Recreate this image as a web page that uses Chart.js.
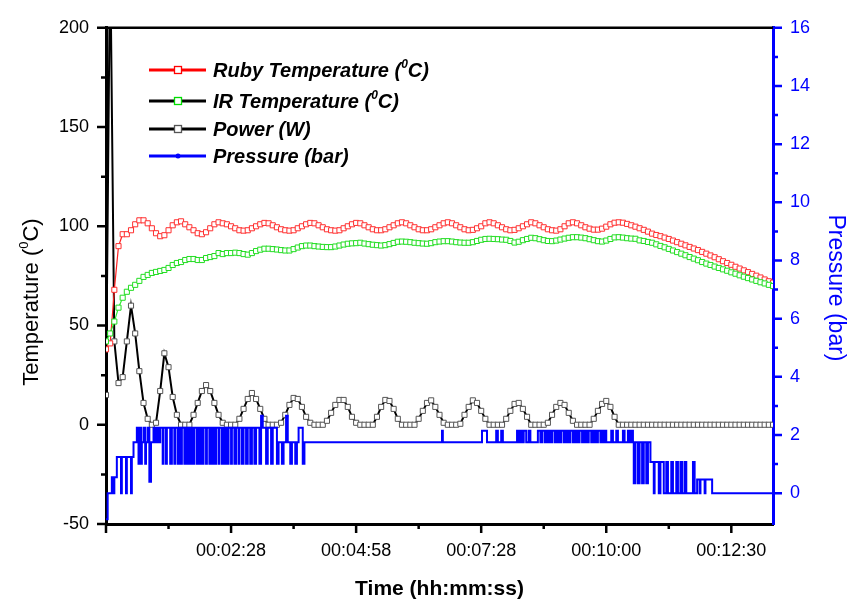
<!DOCTYPE html>
<html lang="en">
<head>
<meta charset="UTF-8">
<title>Ruby / IR temperature, power and pressure</title>
<script src="https://cdn.jsdelivr.net/npm/chart.js"></script>
<style>
  body { margin: 0; background: #fff; }
  #chart { display: block; }
</style>
</head>
<body>
<canvas id="chart" width="850" height="602"></canvas>
<script>
const sampleStep = 5;

// temperature in degC, one value per sample, 0 .. 800 s
const rubyTemp = [
  38, 41, 68, 90, 96, 96, 98, 101, 103, 103,
  101.5, 99, 96.5, 95, 95.5, 98, 100.5, 102, 102.5, 101,
  99.5, 98, 96.5, 96, 97, 99, 101, 102, 101.5, 101,
  100, 99, 98, 97.8, 98, 99, 100, 101, 101.7, 101.5,
  100.5, 99.5, 98.5, 98, 97.8, 98, 99, 100, 101, 101.7,
  101.5, 100.5, 99.5, 98.5, 98, 97.8, 98, 99, 100, 101,
  101.7, 101.5, 100.5, 99.5, 98.5, 98, 98, 98.5, 99.5, 100.5,
  101.5, 102, 101.5, 100.5, 99.5, 98.5, 98, 98, 98.5, 99.5,
  100.5, 101.5, 102, 101.5, 100.5, 99.5, 98.5, 98, 98.2, 99,
  100, 101.5, 102, 101.5, 100.5, 99.5, 98.5, 98, 98.2, 99,
  100, 101, 102, 101.5, 100.5, 99.5, 98.5, 98, 97.8, 98.5,
  100, 101.5, 102, 101.5, 100.5, 99.5, 98.8, 98.3, 98.3, 98.8,
  99.8, 101, 101.8, 102, 101.8, 101.2, 100.5, 99.8, 99, 98.2,
  97.3, 96.3, 95.6, 95, 94.3, 93.6, 92.8, 92, 91.2, 90.4,
  89.6, 88.8, 88, 87.1, 86.2, 85.3, 84.4, 83.4, 82.4, 81.5,
  80.6, 79.6, 78.7, 77.8, 76.9, 76, 75.1, 74.2, 73.2, 72.3,
  71.6
];

const irTemp = [
  42, 46, 52, 59, 64, 67, 69, 70.5, 72.5, 74.5,
  75.5, 76.5, 77, 77.5, 78, 79, 80.5, 81.5, 82, 83,
  83.5, 83.5, 83, 83, 84, 84.5, 85, 86.5, 86, 86.5,
  86.5, 86.7, 86.5, 86, 85.7, 86.5, 87.5, 88.2, 88.7, 88.7,
  88.5, 88.3, 88, 87.8, 87.8, 88.5, 89.3, 90, 90.3, 90.3,
  90, 89.8, 89.6, 89.5, 89.5, 89.8, 90.3, 90.8, 91.2, 91.4,
  91.5, 91.7, 91.3, 91, 90.7, 90.5, 90.3, 90.5, 91, 91.6,
  92.2, 92.3, 92.2, 92, 91.7, 91.5, 91.3, 91.2, 91.5, 92,
  92.3, 92.5, 92.5, 92.3, 92, 91.8, 91.7, 91.7, 92, 92.6,
  93.2, 93.6, 93.7, 93.6, 93.5, 93.3, 93.2, 92.6, 91.8, 92.2,
  93, 93.6, 94.2, 94, 93.5, 93, 92.6, 92.5, 92.8, 93.3,
  93.8, 94.2, 94.5, 94.5, 94.3, 94, 93.5, 93, 92.5, 92.3,
  92.8, 93.6, 94.4, 94.5, 94.3, 94, 93.8, 93.7, 92.9, 92.6,
  92.1, 91.7, 90.9, 90.1, 89.4, 88.6, 87.8, 87, 86.2, 85.4,
  84.5, 83.7, 82.9, 82, 81.2, 80.5, 79.7, 79, 78.3, 77.6,
  76.8, 76.1, 75.3, 74.6, 73.9, 73.2, 72.5, 71.8, 71.2, 70.5,
  69.9
];

// heater power in W, same samples (second one runs off the top)
const power = [
  15, 240, 42, 21, 24, 42, 60, 46, 27, 11,
  3, 0, 1, 17, 36, 29, 14, 5, 0, 0,
  0, 5, 11, 17, 20, 17, 11, 5, 1, 0,
  0, 0, 3, 8, 13, 16, 13, 8, 3, 0,
  0, 0, 1, 5, 10, 13.5, 13, 9, 4, 1,
  0, 0, 0, 2, 6, 10, 12.5, 12.5, 9, 4,
  1, 0, 0, 0, 0, 4, 9, 12.5, 12, 8,
  3, 0, 0, 0, 0, 3, 7, 11, 12.3, 9,
  5, 1, 0, 0, 0, 0.5, 5, 9, 12.3, 11,
  7, 3, 0, 0, 0, 0, 3, 7, 10.5, 11,
  8, 4, 0, 0, 0, 0, 1, 5, 9, 11,
  10, 6, 2, 0, 0, 0, 0, 3, 7, 10.5,
  12, 9, 4, 0, 0, 0, 0, 0, 0, 0,
  0, 0, 0, 0, 0, 0, 0, 0, 0, 0,
  0, 0, 0, 0, 0, 0, 0, 0, 0, 0,
  0, 0, 0, 0, 0, 0, 0, 0, 0, 0,
  0
];

// pressure gauge changes: time (s) and the new reading (bar)
const pressureTime = [
  0, 2, 7, 9, 10, 13, 18, 19, 24, 25, 30, 31, 33,
  37, 39, 40, 42, 43, 45, 47, 48, 50, 52, 54, 57, 59, 61, 63, 65,
  68, 69, 72, 73, 77, 79, 82, 83, 86, 87, 89, 91, 94, 95, 97, 99,
  101, 103, 104, 106, 109, 110, 112, 114, 116, 117, 120, 121, 124, 125,
  127, 129, 131, 132, 135, 136, 139, 140, 142, 144, 146, 147, 150, 151,
  154, 156, 159, 160, 163, 165, 168, 170, 173, 175, 178, 180, 184, 186,
  188, 192, 194, 198, 200, 205, 207, 211, 213, 216, 218, 221, 223, 227,
  229, 231, 236, 238,
  403, 404, 451, 457, 468, 470, 474, 476, 493, 495, 497, 499, 501, 504,
  507, 509, 518, 521, 523, 526, 528, 530, 532, 534, 535, 538, 539, 541,
  543, 545, 546, 549, 550, 552, 554, 556, 557, 560, 561, 563, 565, 567,
  568, 571, 572, 574, 576, 578, 579, 582, 583, 585, 587, 589, 590, 593,
  594, 596, 598, 600, 606, 608, 612, 614, 620, 622, 626, 628, 630, 632,
  633, 635, 638, 640, 643, 645, 648, 650, 653, 657, 658, 663, 665, 669,
  672, 674, 678, 680, 684, 686, 689, 691, 694, 696, 704, 706, 709, 712,
  713, 718, 719, 727, 800
];
const pressureBar = [
  -0.9, 0, 0.55, 0, 0.55, 1.24, 0, 1.24, 0, 1.24, 0, 1.24, 1.75,
  2.25, 1.01, 2.25, 1.01, 1.75, 2.25, 1.01, 1.75, 2.25, 0.39, 1.75, 2.25, 1.75, 2.25, 1.75, 2.25,
  1.01, 2.25, 1.01, 2.25, 1.01, 2.25, 1.01, 2.25, 1.01, 2.25, 1.01, 2.25, 1.01, 2.25, 1.01, 2.25,
  1.01, 2.25, 1.01, 2.25, 1.01, 2.25, 1.01, 2.25, 1.01, 2.25, 1.01, 2.25, 1.01, 2.25,
  1.01, 2.25, 1.01, 2.25, 1.01, 2.25, 1.01, 2.25, 1.01, 2.25, 1.01, 2.25, 1.01, 2.25,
  1.01, 2.25, 1.01, 2.25, 1.01, 2.25, 1.01, 2.25, 1.01, 2.25, 1.01, 2.25, 1.01, 2.66,
  2.25, 1.01, 2.25, 1.01, 2.25, 1.01, 1.75, 1.01, 1.75, 2.66, 1.75, 1.01, 1.75, 1.01,
  1.75, 2.25, 1.01, 1.75,
  2.15, 1.75, 2.15, 1.75, 2.15, 1.75, 2.15, 1.75, 2.15, 1.75, 2.15, 1.75, 2.15, 1.75,
  2.15, 1.75, 2.15, 1.75, 2.15, 1.75, 2.15, 1.75, 2.15, 1.75, 2.15, 1.75, 2.15, 1.75,
  2.15, 1.75, 2.15, 1.75, 2.15, 1.75, 2.15, 1.75, 2.15, 1.75, 2.15, 1.75, 2.15, 1.75,
  2.15, 1.75, 2.15, 1.75, 2.15, 1.75, 2.15, 1.75, 2.15, 1.75, 2.15, 1.75, 2.15, 1.75,
  2.15, 1.75, 2.15, 1.75, 2.15, 1.75, 2.15, 1.75, 2.15, 1.75, 2.15, 1.75, 2.15, 1.75,
  0.34, 1.75, 0.34, 1.75, 0.34, 1.75, 0.34, 1.75, 1.07, 0, 1.07, 0, 1.07, 0,
  1.07, 0, 1.07, 0, 1.07, 0, 1.07, 0, 1.07, 0, 1.07, 0, 0.47, 0,
  0.47, 0, 0.47, 0, 0
];

const xTickValues = [0, 150, 300, 450, 600, 750];
const xTickLabels = ['', '00:02:28', '00:04:58', '00:07:28', '00:10:00', '00:12:30'];
const pressureTicks = [0, 2, 4, 6, 8, 10, 12, 14, 16];
const seriesNames = ['Ruby Temperature (⁰C)', 'IR Temperature (⁰C)', 'Power (W)', 'Pressure (bar)'];

const FONT = '"Liberation Sans", Arial, sans-serif';
const sampleTimes = rubyTemp.map((_, i) => i * sampleStep);
const asPoints = (xs, ys) => xs.map((t, i) => ({ x: t, y: ys[i] }));

// text with a raised "0" wherever the ⁰ character appears
function richText(ctx, text, x, y, size, weight, align) {
  const parts = text.split('⁰');
  const big = weight + ' ' + size + 'px ' + FONT;
  const small = weight + ' ' + Math.round(size * 0.6) + 'px ' + FONT;
  ctx.font = small;
  const supW = ctx.measureText('0').width;
  ctx.font = big;
  let total = supW * (parts.length - 1);
  parts.forEach(p => { total += ctx.measureText(p).width; });
  let cx = align === 'center' ? x - total / 2 : x;
  ctx.textAlign = 'left';
  ctx.textBaseline = 'alphabetic';
  parts.forEach((p, i) => {
    ctx.font = big;
    ctx.fillText(p, cx, y);
    cx += ctx.measureText(p).width;
    if (i < parts.length - 1) {
      ctx.font = small;
      ctx.fillText('0', cx, y - size * 0.45);
      cx += supW;
    }
  });
}

const chartDecor = {
  id: 'chartDecor',
  afterDraw(chart) {
    const { ctx, chartArea: a } = chart;
    const { x, y, y2 } = chart.scales;
    ctx.save();

    // top frame
    ctx.strokeStyle = '#000';
    ctx.lineWidth = 2.5;
    ctx.beginPath();
    ctx.moveTo(a.left, a.top);
    ctx.lineTo(a.right, a.top);
    ctx.stroke();

    // outward tick marks, major and minor
    ctx.lineWidth = 2.5;
    ctx.beginPath();
    for (let v = -50; v <= 200; v += 25) {
      const py = y.getPixelForValue(v);
      ctx.moveTo(a.left - (v % 50 === 0 ? 9 : 5), py);
      ctx.lineTo(a.left, py);
    }
    for (let v = 0; v <= 800; v += 75) {
      const px = x.getPixelForValue(v);
      ctx.moveTo(px, a.bottom);
      ctx.lineTo(px, a.bottom + (v % 150 === 0 ? 9 : 5));
    }
    ctx.stroke();
    ctx.strokeStyle = '#0000ff';
    ctx.beginPath();
    for (let v = 0; v <= 16; v += 1) {
      const py = y2.getPixelForValue(v);
      ctx.moveTo(a.right, py);
      ctx.lineTo(a.right + (v % 2 === 0 ? 9 : 5), py);
    }
    ctx.stroke();

    // axis titles
    ctx.fillStyle = '#000';
    ctx.save();
    ctx.translate(30, 302);
    ctx.rotate(-Math.PI / 2);
    richText(ctx, 'Temperature (⁰C)', 0, 8, 22, 'normal', 'center');
    ctx.restore();

    ctx.save();
    ctx.fillStyle = '#0000ff';
    ctx.translate(837, 288);
    ctx.rotate(Math.PI / 2);
    richText(ctx, 'Pressure (bar)', 0, 8, 23, 'normal', 'center');
    ctx.restore();

    richText(ctx, 'Time (hh:mm:ss)', (a.left + a.right) / 2, 595, 21, 'bold', 'center');

    // legend (the original shows a black line for the IR entry)
    const rowY = [70, 101, 129, 156];
    const lineCol = ['#ff0000', '#000000', '#000000', '#0000ff'];
    const markCol = ['#ff0000', '#00dd00', '#555555', '#0000ff'];
    rowY.forEach((ry, i) => {
      ctx.strokeStyle = lineCol[i];
      ctx.lineWidth = 3;
      ctx.beginPath();
      ctx.moveTo(a.left + 43, ry);
      ctx.lineTo(a.left + 100, ry);
      ctx.stroke();
      const mx = a.left + 72;
      if (i < 3) {
        ctx.fillStyle = '#fff';
        ctx.fillRect(mx - 3.5, ry - 3.5, 7, 7);
        ctx.strokeStyle = markCol[i];
        ctx.lineWidth = 1.3;
        ctx.strokeRect(mx - 3.5, ry - 3.5, 7, 7);
      } else {
        ctx.fillStyle = markCol[i];
        ctx.beginPath();
        ctx.arc(mx, ry, 2.5, 0, Math.PI * 2);
        ctx.fill();
      }
      ctx.fillStyle = '#000';
      richText(ctx, seriesNames[i], a.left + 107, ry + 7, 20, 'italic bold', 'left');
    });
    ctx.restore();
  }
};

const ctx = document.getElementById('chart').getContext('2d');
new Chart(ctx, {
  type: 'line',
  data: {
    datasets: [
      {
        label: seriesNames[3],
        data: asPoints(pressureTime, pressureBar),
        yAxisID: 'y2',
        borderColor: '#0000ff',
        borderWidth: 2,
        stepped: true,
        pointRadius: 0
      },
      {
        label: seriesNames[1],
        data: asPoints(sampleTimes, irTemp),
        yAxisID: 'y',
        borderColor: '#33ee33',
        borderWidth: 1.2,
        pointStyle: 'rect',
        pointRadius: 3.6,
        pointBorderWidth: 1,
        pointBorderColor: '#22dd22',
        pointBackgroundColor: '#ffffff'
      },
      {
        label: seriesNames[0],
        data: asPoints(sampleTimes, rubyTemp),
        yAxisID: 'y',
        borderColor: '#ff2020',
        borderWidth: 1.2,
        pointStyle: 'rect',
        pointRadius: 3.6,
        pointBorderWidth: 1,
        pointBorderColor: '#ff3030',
        pointBackgroundColor: '#ffffff'
      },
      {
        label: seriesNames[2],
        data: asPoints(sampleTimes, power),
        yAxisID: 'y',
        borderColor: '#000000',
        borderWidth: 2,
        pointStyle: 'rect',
        pointRadius: 3.6,
        pointBorderWidth: 1,
        pointBorderColor: '#555555',
        pointBackgroundColor: '#ffffff'
      }
    ]
  },
  options: {
    responsive: false,
    animation: false,
    devicePixelRatio: 1,
    layout: { padding: { top: 24, left: 0, right: 0, bottom: 0 } },
    plugins: {
      legend: { display: false },
      tooltip: { enabled: false }
    },
    scales: {
      x: {
        type: 'linear',
        min: 0,
        max: 800,
        afterBuildTicks: s => { s.ticks = xTickValues.map(v => ({ value: v })); },
        afterFit: s => { s.height = 78; },
        ticks: {
          autoSkip: false,
          maxRotation: 0,
          padding: 16,
          color: '#000',
          font: { family: FONT, size: 18 },
          callback: (v, i) => xTickLabels[i]
        },
        grid: { display: false, drawTicks: false },
        border: { display: true, color: '#000', width: 3 }
      },
      y: {
        position: 'left',
        min: -50,
        max: 200,
        afterFit: s => { s.width = 106; },
        ticks: {
          stepSize: 50,
          padding: 17,
          color: '#000',
          font: { family: FONT, size: 18 }
        },
        grid: { display: false, drawTicks: false },
        border: { display: true, color: '#000', width: 3 }
      },
      y2: {
        position: 'right',
        min: -1.06,
        max: 16,
        afterBuildTicks: s => { s.ticks = pressureTicks.map(v => ({ value: v })); },
        afterFit: s => { s.width = 77; },
        ticks: {
          padding: 17,
          color: '#0000ff',
          font: { family: FONT, size: 18 }
        },
        grid: { display: false, drawTicks: false },
        border: { display: true, color: '#0000ff', width: 3 }
      }
    }
  },
  plugins: [chartDecor]
});
</script>
</body>
</html>
